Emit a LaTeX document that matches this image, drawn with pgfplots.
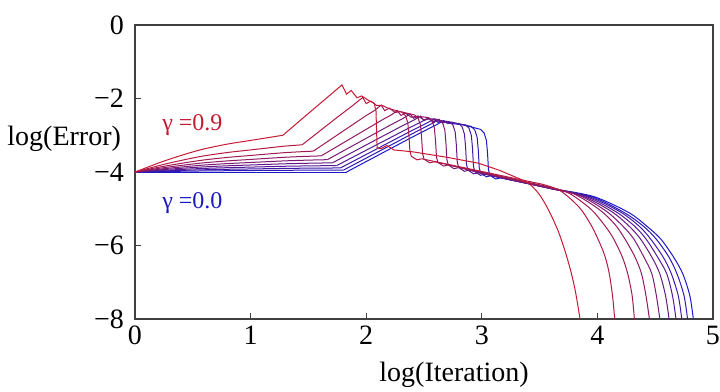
\documentclass[border=0pt]{standalone}
\usepackage{pgfplots}
\pgfplotsset{compat=1.18}
\usepackage{fontspec}
\setmainfont{Liberation Serif}
\definecolor{cR}{RGB}{200,25,50}
\definecolor{cB}{RGB}{25,25,200}
\begin{document}
\begin{tikzpicture}
\useasboundingbox (-67.5pt,-36.5pt) rectangle (292.5pt,159.5pt);
\begin{axis}[
  at={(0,0)}, anchor=south west,
  width=289pt, height=147pt, scale only axis,
  xmin=0, xmax=5, ymin=-8, ymax=0,
  xtick={0,1,2,3,4,5}, xticklabels={0,1,2,3,4,5},
  ytick={-8,-6,-4,-2,0}, yticklabels={−8,−6,−4,−2,0},
  tick pos=left, tick align=inside, major tick length=3pt,
  axis line style={line width=0.6pt, draw=black!75},
  every tick/.style={black!75, line width=0.5pt},
  tick label style={font=\fontsize{14}{16}\selectfont},
  yticklabel style={xshift=-2pt},
  xlabel={log(Iteration)}, ylabel={log(Error)},
  every axis x label/.style={at={(axis description cs:0.552,0)}, anchor=base, yshift=-31.5pt, font=\fontsize{14}{16}\selectfont},
  every axis y label/.style={at={(axis description cs:0,0.589)}, anchor=base east, xshift=-3.5pt, font=\fontsize{14}{16}\selectfont},
  every axis plot/.append style={line width=0.5pt},
  sm/.style={smooth, tension=0.5},
]
% gamma = 0.0
\addplot[color=cR!0!cB] coordinates {(0,-4) (1.83,-4)};
\addplot[color=cR!0!cB] coordinates {(1.83,-4) (2.0,-3.716) (2.2,-3.382) (2.4,-3.048) (2.61,-2.71) (2.67,-2.6) (2.7,-2.66) (2.74,-2.64) (2.79,-2.70) (2.84,-2.72) (2.99,-2.84) (3.02,-2.94) (3.04,-3.14) (3.05,-3.50) (3.058,-3.94) (3.07,-4.09) (3.12,-4.19) (3.16,-4.16) (3.43,-4.33) (3.7,-4.5)};
\addplot[color=cR!0!cB, sm] coordinates {(3.7,-4.5) (3.98,-4.68) (4.27,-5.10) (4.43,-5.48) (4.55,-5.83) (4.66,-6.32) (4.74,-6.78) (4.80,-7.37) (4.83,-8)};
% gamma = 0.1
\addplot[color=cR!11!cB, sm] coordinates {(0,-4) (0.1,-3.994) (0.2,-3.989) (0.3,-3.984) (0.45,-3.977) (0.6,-3.971) (0.8,-3.965) (1.0,-3.960) (1.28,-3.954) (1.45,-3.951) (1.6,-3.949) (1.805,-3.947)};
\addplot[color=cR!11!cB] coordinates {(1.805,-3.947) (2.0,-3.622) (2.2,-3.289) (2.4,-2.956) (2.57,-2.68) (2.63,-2.57) (2.66,-2.66) (2.7,-2.63) (2.75,-2.69) (2.8,-2.69) (2.91,-2.76) (2.94,-2.86) (2.96,-3.06) (2.97,-3.42) (2.978,-3.88) (2.99,-4.03) (3.04,-4.13) (3.08,-4.10) (3.4,-4.31) (3.68,-4.5)};
\addplot[color=cR!11!cB, sm] coordinates {(3.68,-4.5) (3.96,-4.68) (4.23,-5.10) (4.40,-5.48) (4.51,-5.83) (4.62,-6.32) (4.69,-6.78) (4.75,-7.37) (4.78,-8)};
% gamma = 0.2
\addplot[color=cR!22!cB, sm] coordinates {(0,-4) (0.1,-3.988) (0.2,-3.977) (0.3,-3.966) (0.45,-3.952) (0.6,-3.939) (0.8,-3.926) (1.0,-3.917) (1.28,-3.903) (1.45,-3.897) (1.6,-3.893) (1.777,-3.890)};
\addplot[color=cR!22!cB] coordinates {(1.777,-3.890) (2.0,-3.523) (2.2,-3.193) (2.4,-2.864) (2.53,-2.66) (2.59,-2.55) (2.62,-2.65) (2.66,-2.62) (2.71,-2.68) (2.76,-2.67) (2.86,-2.72) (2.89,-2.81) (2.91,-3.01) (2.92,-3.37) (2.928,-3.84) (2.94,-3.99) (2.99,-4.09) (3.03,-4.06) (3.35,-4.28) (3.66,-4.49)};
\addplot[color=cR!22!cB, sm] coordinates {(3.66,-4.49) (3.93,-4.67) (4.20,-5.09) (4.36,-5.47) (4.46,-5.82) (4.57,-6.32) (4.64,-6.77) (4.70,-7.37) (4.73,-8)};
% gamma = 0.3
\addplot[color=cR!33!cB, sm] coordinates {(0,-4) (0.1,-3.981) (0.2,-3.963) (0.3,-3.946) (0.45,-3.923) (0.6,-3.902) (0.8,-3.882) (1.0,-3.867) (1.28,-3.845) (1.45,-3.836) (1.6,-3.830) (1.745,-3.825)};
\addplot[color=cR!33!cB] coordinates {(1.745,-3.825) (1.95,-3.489) (2.15,-3.162) (2.35,-2.834) (2.48,-2.63) (2.54,-2.52) (2.57,-2.63) (2.61,-2.59) (2.66,-2.66) (2.71,-2.64) (2.8,-2.68) (2.83,-2.77) (2.85,-2.97) (2.86,-3.32) (2.868,-3.80) (2.88,-3.95) (2.93,-4.05) (2.97,-4.02) (3.3,-4.25) (3.64,-4.48)};
\addplot[color=cR!33!cB, sm] coordinates {(3.64,-4.48) (3.90,-4.66) (4.16,-5.08) (4.32,-5.47) (4.42,-5.82) (4.52,-6.31) (4.60,-6.77) (4.65,-7.37) (4.68,-8)};
% gamma = 0.4
\addplot[color=cR!44!cB, sm] coordinates {(0,-4) (0.1,-3.973) (0.2,-3.947) (0.3,-3.922) (0.45,-3.889) (0.6,-3.860) (0.8,-3.831) (1.0,-3.809) (1.28,-3.778) (1.45,-3.765) (1.6,-3.756) (1.708,-3.751)};
\addplot[color=cR!44!cB] coordinates {(1.708,-3.751) (1.9,-3.431) (2.1,-3.097) (2.3,-2.764) (2.41,-2.59) (2.47,-2.48) (2.5,-2.6) (2.54,-2.55) (2.59,-2.63) (2.64,-2.6) (2.72,-2.63) (2.75,-2.72) (2.77,-2.91) (2.78,-3.27) (2.788,-3.73) (2.80,-3.88) (2.85,-3.98) (2.89,-3.95) (3.25,-4.21) (3.62,-4.47)};
\addplot[color=cR!44!cB, sm] coordinates {(3.62,-4.47) (3.87,-4.65) (4.12,-5.07) (4.27,-5.46) (4.37,-5.81) (4.47,-6.31) (4.54,-6.77) (4.59,-7.37) (4.62,-8)};
% gamma = 0.5
\addplot[color=cR!56!cB, sm] coordinates {(0,-4) (0.1,-3.964) (0.2,-3.928) (0.3,-3.895) (0.45,-3.850) (0.6,-3.810) (0.8,-3.771) (1.0,-3.741) (1.28,-3.699) (1.45,-3.681) (1.6,-3.669) (1.664,-3.665)};
\addplot[color=cR!56!cB] coordinates {(1.664,-3.665) (1.85,-3.343) (2.05,-2.997) (2.2,-2.738) (2.32,-2.54) (2.38,-2.42) (2.41,-2.54) (2.45,-2.48) (2.5,-2.58) (2.55,-2.55) (2.63,-2.57) (2.66,-2.66) (2.68,-2.85) (2.69,-3.21) (2.698,-3.66) (2.71,-3.81) (2.76,-3.91) (2.80,-3.88) (3.2,-4.165) (3.6,-4.45)};
\addplot[color=cR!56!cB, sm] coordinates {(3.6,-4.45) (3.84,-4.63) (4.07,-5.05) (4.21,-5.44) (4.31,-5.80) (4.40,-6.30) (4.47,-6.76) (4.51,-7.36) (4.54,-8)};
% gamma = 0.6
\addplot[color=cR!67!cB, sm] coordinates {(0,-4) (0.1,-3.952) (0.2,-3.904) (0.3,-3.861) (0.45,-3.801) (0.6,-3.749) (0.8,-3.698) (1.0,-3.658) (1.28,-3.602) (1.45,-3.578) (1.611,-3.561)};
\addplot[color=cR!67!cB] coordinates {(1.611,-3.561) (1.8,-3.21) (2.0,-2.839) (2.15,-2.56) (2.21,-2.46) (2.27,-2.33) (2.3,-2.46) (2.34,-2.40) (2.39,-2.51) (2.44,-2.48) (2.54,-2.52) (2.57,-2.61) (2.59,-2.80) (2.6,-3.16) (2.608,-3.59) (2.62,-3.74) (2.67,-3.84) (2.71,-3.81) (3.15,-4.12) (3.58,-4.42)};
\addplot[color=cR!67!cB, sm] coordinates {(3.58,-4.42) (3.80,-4.60) (4.02,-5.03) (4.15,-5.42) (4.23,-5.78) (4.32,-6.28) (4.38,-6.75) (4.42,-7.36) (4.45,-8)};
% gamma = 0.7
\addplot[color=cR!78!cB, sm] coordinates {(0,-4) (0.1,-3.937) (0.2,-3.874) (0.3,-3.817) (0.45,-3.739) (0.6,-3.671) (0.8,-3.603) (1.0,-3.550) (1.28,-3.477) (1.45,-3.446) (1.542,-3.433)};
\addplot[color=cR!78!cB] coordinates {(1.542,-3.433) (1.7,-3.099) (1.85,-2.781) (2.0,-2.464) (2.07,-2.33) (2.13,-2.18) (2.16,-2.33) (2.2,-2.26) (2.25,-2.38) (2.3,-2.36) (2.42,-2.45) (2.45,-2.54) (2.47,-2.73) (2.48,-3.09) (2.488,-3.50) (2.50,-3.65) (2.55,-3.75) (2.59,-3.72) (3.1,-4.07) (3.56,-4.39)};
\addplot[color=cR!78!cB, sm] coordinates {(3.56,-4.39) (3.75,-4.57) (3.94,-5.00) (4.05,-5.40) (4.13,-5.76) (4.21,-6.27) (4.26,-6.74) (4.30,-7.35) (4.32,-8)};
% gamma = 0.8
\addplot[color=cR!89!cB, sm] coordinates {(0,-4) (0.1,-3.916) (0.2,-3.832) (0.3,-3.755) (0.45,-3.651) (0.6,-3.560) (0.8,-3.469) (1.0,-3.399) (1.28,-3.301) (1.446,-3.26)};
\addplot[color=cR!89!cB] coordinates {(1.446,-3.26) (1.6,-2.88) (1.75,-2.51) (1.88,-2.2) (1.97,-1.97) (2.0,-2.14) (2.04,-2.07) (2.09,-2.19) (2.14,-2.19) (2.2,-2.28) (2.31,-2.37) (2.34,-2.47) (2.36,-2.66) (2.37,-3.02) (2.378,-3.42) (2.39,-3.57) (2.44,-3.67) (2.48,-3.64) (3.0,-3.985) (3.52,-4.33)};
\addplot[color=cR!89!cB, sm] coordinates {(3.52,-4.33) (3.68,-4.51) (3.84,-4.95) (3.93,-5.36) (3.99,-5.72) (4.06,-6.24) (4.10,-6.72) (4.13,-7.34) (4.15,-8)};
% gamma = 0.9
\addplot[color=cR, sm] coordinates {(0,-4) (0.1,-3.88) (0.2,-3.76) (0.3,-3.65) (0.45,-3.5) (0.6,-3.37) (0.8,-3.24) (1.0,-3.14) (1.28,-3.0)};
\addplot[color=cR] coordinates {(1.28,-3.0) (1.45,-2.54) (1.6,-2.14) (1.72,-1.82) (1.79,-1.63) (1.83,-1.88) (1.87,-1.78) (1.92,-1.98) (1.96,-1.93) (2.03,-2.07) (2.07,-2.13) (2.085,-2.35) (2.09,-2.9) (2.095,-3.35) (2.13,-3.36) (2.18,-3.28) (2.24,-3.4) (2.4,-3.45) (2.7,-3.6) (2.97,-3.76) (3.15,-3.95) (3.3,-4.15)};
\addplot[color=cR, sm] coordinates {(3.3,-4.15) (3.41,-4.32) (3.5,-4.62) (3.58,-5.05) (3.66,-5.6) (3.72,-6.15) (3.77,-6.7) (3.81,-7.25) (3.85,-8)};
\node[anchor=base west, inner sep=0pt, text=cR, font=\fontsize{12}{14}\selectfont] at (axis cs:0.233,-2.86) {γ =0.9};
\node[anchor=base west, inner sep=0pt, text=cB, font=\fontsize{12}{14}\selectfont] at (axis cs:0.233,-4.98) {γ =0.0};
\end{axis}
\end{tikzpicture}
\end{document}
